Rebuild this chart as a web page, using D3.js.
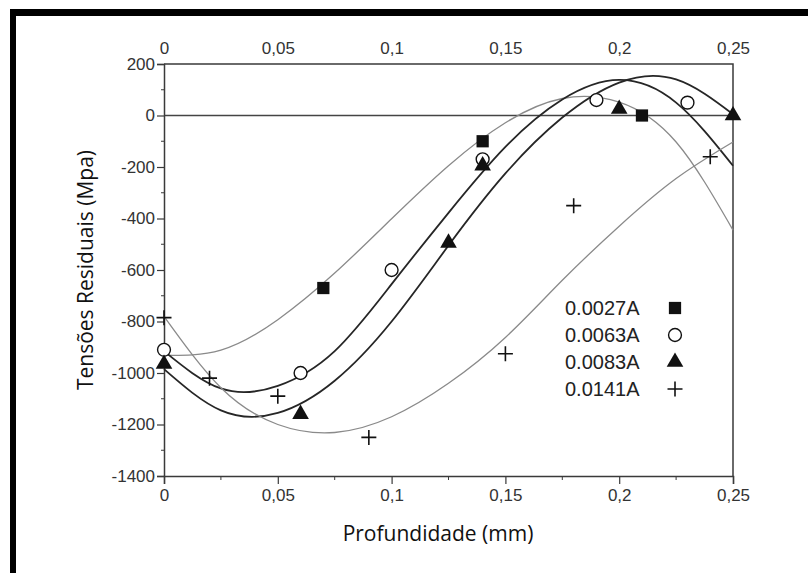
<!DOCTYPE html>
<html>
<head>
<meta charset="utf-8">
<script src="https://cdn.jsdelivr.net/npm/d3@7"></script>
<style>
  body { margin: 0; background: #fff; }
</style>
</head>
<body>
<div id="chart"></div>
<script>
// tick labels (decimal comma, as in the original)
const xTickValues = [0, 0.05, 0.1, 0.15, 0.2, 0.25];
const xTickLabels = ["0", "0,05", "0,1", "0,15", "0,2", "0,25"];
const xMinorValues = [0.025, 0.075, 0.125, 0.175, 0.225];
const yTickValues = [200, 0, -200, -400, -600, -800, -1000, -1200, -1400];
const yMinorValues = [100, -100, -300, -500, -700, -900, -1100, -1300];

const seriesNames = ["0.0027A", "0.0063A", "0.0083A", "0.0141A"];

// measured points
const depth0027 = [0.07, 0.14, 0.21];
const stress0027 = [-670, -100, 0];
const depth0063 = [0, 0.06, 0.10, 0.14, 0.19, 0.23];
const stress0063 = [-910, -1000, -600, -170, 60, 50];
const depth0083 = [0, 0.06, 0.125, 0.14, 0.20, 0.25];
const stress0083 = [-965, -1160, -495, -195, 25, 0];
const depth0141 = [0, 0.02, 0.05, 0.09, 0.15, 0.18, 0.24];
const stress0141 = [-785, -1020, -1090, -1250, -925, -350, -160];

// fitted curves
const fitDepth = [0, 0.025, 0.05, 0.075, 0.1, 0.125, 0.15, 0.175, 0.2, 0.225, 0.25];
const fit0027 = [-931, -911, -793, -612, -401, -195, -28, 66, 52, -103, -445];
const fit0063 = [-915, -1060, -1050, -915, -655, -378, -122, 62, 138, 50, -195];
const fit0083 = [-985, -1145, -1155, -1030, -800, -505, -225, -8, 128, 140, 5];
const fit0141 = [-780, -1057, -1200, -1231, -1170, -1040, -862, -640, -430, -245, -103];

const width = 808, height = 573;
const margin = { left: 164, right: 75, top: 64, bottom: 97 };

const svg = d3.select("#chart").append("svg")
  .attr("width", width)
  .attr("height", height)
  .style("display", "block")
  .style("background", "#fff");

// black frame (top + left only)
svg.append("rect").attr("x", 10).attr("y", 9).attr("width", width - 10).attr("height", 7).attr("fill", "#000");
svg.append("rect").attr("x", 10).attr("y", 9).attr("width", 6).attr("height", height - 9).attr("fill", "#000");

const x = d3.scaleLinear().domain([0, 0.25]).range([margin.left, width - margin.right]);
const y = d3.scaleLinear().domain([-1400, 200]).range([height - margin.bottom, margin.top]);

const axisColor = "#3a3a3a";
const tickFont = "'Liberation Sans', Arial, sans-serif";

// plot box: top and right edges
svg.append("path")
  .attr("d", `M${x(0)},${y(200)}H${x(0.25)}V${y(-1400)}`)
  .attr("fill", "none").attr("stroke", axisColor).attr("stroke-width", 1.5);

// zero line
svg.append("line")
  .attr("x1", x(0)).attr("x2", x(0.25))
  .attr("y1", y(0)).attr("y2", y(0))
  .attr("stroke", "#444").attr("stroke-width", 1.3);

// left axis (plain hyphen for negatives)
const yAxis = d3.axisLeft(y).tickValues(yTickValues).tickSize(7).tickPadding(2).tickFormat(d => String(d));
const gy = svg.append("g").attr("transform", `translate(${x(0)},0)`).call(yAxis);
gy.append("g").selectAll("line").data(yMinorValues).join("line")
  .attr("x1", -3).attr("x2", 0).attr("y1", d => y(d)).attr("y2", d => y(d))
  .attr("stroke", axisColor);

// bottom axis
const xAxis = d3.axisBottom(x).tickValues(xTickValues).tickSize(8).tickPadding(5)
  .tickFormat((d, i) => xTickLabels[i]);
const gx = svg.append("g").attr("transform", `translate(0,${y(-1400)})`).call(xAxis);
gx.append("g").selectAll("line").data(xMinorValues).join("line")
  .attr("x1", d => x(d)).attr("x2", d => x(d)).attr("y1", 0).attr("y2", 4)
  .attr("stroke", axisColor);

// top axis: labels only
const xTop = d3.axisTop(x).tickValues(xTickValues).tickSize(0).tickPadding(10)
  .tickFormat((d, i) => xTickLabels[i]);
const gt = svg.append("g").attr("transform", `translate(0,${y(200)})`).call(xTop);
gt.select(".domain").remove();

[gx, gy, gt].forEach(g => {
  g.select(".domain").attr("stroke", axisColor).attr("stroke-width", 1.5);
  g.selectAll(".tick line").attr("stroke", axisColor).attr("stroke-width", 1.2);
  g.selectAll(".tick text")
    .attr("fill", "#333")
    .style("font-family", tickFont)
    .style("font-size", "17px");
});

// fitted curves
const line = d3.line()
  .x(d => x(d[0]))
  .y(d => y(d[1]))
  .curve(d3.curveNatural);

const fits = [
  { values: fit0027, color: "#8a8a8a", w: 1.3 },
  { values: fit0063, color: "#262626", w: 1.8 },
  { values: fit0083, color: "#262626", w: 1.8 },
  { values: fit0141, color: "#8a8a8a", w: 1.3 }
];

svg.append("g").selectAll("path").data(fits).join("path")
  .attr("d", f => line(fitDepth.map((d, i) => [d, f.values[i]])))
  .attr("fill", "none")
  .attr("stroke", f => f.color)
  .attr("stroke-width", f => f.w);

// markers
const markSquare = d3.symbol(d3.symbolSquare, 150)();
const markCircle = d3.symbol(d3.symbolCircle, 130)();
const markTriangle = d3.symbol(d3.symbolTriangle, 120)();
const markPlus = "M-7.5,0H7.5M0,-7.5V7.5";

const series = [
  { name: seriesNames[0], xs: depth0027, ys: stress0027, path: markSquare, fill: "#111", stroke: "none", sw: 0 },
  { name: seriesNames[1], xs: depth0063, ys: stress0063, path: markCircle, fill: "#fff", stroke: "#111", sw: 1.4 },
  { name: seriesNames[2], xs: depth0083, ys: stress0083, path: markTriangle, fill: "#111", stroke: "none", sw: 0 },
  { name: seriesNames[3], xs: depth0141, ys: stress0141, path: markPlus, fill: "none", stroke: "#111", sw: 1.6 }
];

series.forEach(s => {
  svg.append("g").selectAll("path")
    .data(s.xs.map((d, i) => [d, s.ys[i]]))
    .join("path")
    .attr("transform", d => `translate(${x(d[0])},${y(d[1])})`)
    .attr("d", s.path)
    .attr("fill", s.fill)
    .attr("stroke", s.stroke)
    .attr("stroke-width", s.sw);
});

// legend
const legend = svg.append("g").attr("transform", "translate(565,308)");
const row = legend.selectAll("g").data(series).join("g")
  .attr("transform", (d, i) => `translate(0,${i * 27})`);
row.append("text")
  .attr("dy", "0.35em")
  .attr("fill", "#222")
  .style("font-family", tickFont)
  .style("font-size", "20px")
  .text(d => d.name);
row.append("path")
  .attr("transform", "translate(110,0)")
  .attr("d", d => d.path)
  .attr("fill", d => d.fill)
  .attr("stroke", d => d.stroke)
  .attr("stroke-width", d => d.sw);

// axis titles
const titleFont = "'Open Sans', 'Noto Sans', sans-serif";
svg.append("text")
  .attr("x", 438).attr("y", 541)
  .attr("text-anchor", "middle")
  .attr("fill", "#111")
  .style("font-family", titleFont)
  .style("font-size", "21px")
  .text("Profundidade (mm)");

svg.append("text")
  .attr("transform", `translate(93,${(y(200) + y(-1400)) / 2}) rotate(-90)`)
  .attr("text-anchor", "middle")
  .attr("fill", "#111")
  .style("font-family", titleFont)
  .style("font-size", "21px")
  .text("Tensões Residuais (Mpa)");
</script>
</body>
</html>
